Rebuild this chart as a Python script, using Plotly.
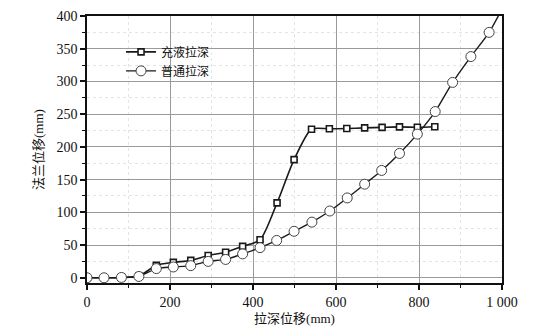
import plotly.graph_objects as go

# 充液拉深 (hydro-mechanical deep drawing)
hydro_x = [0, 41, 83, 125, 167, 208, 250, 292, 334, 375, 417, 458, 499,
           541, 584, 626, 669, 711, 753, 796, 838]
hydro_y = [0, 0, 0.5, 2.5, 19, 23.5, 26.5, 34, 39, 48, 58, 114.5, 180.5,
           227, 227.6, 228, 229, 229.8, 230.5, 230, 230.8]

# 普通拉深 (conventional deep drawing)
conv_x = [0, 41, 83, 125, 167, 208, 250, 292, 334, 375, 417, 457, 499,
          542, 585, 627, 669, 710, 753, 796, 839, 881, 925, 969, 1010]
conv_y = [0, 0, 0.5, 2, 14, 16.5, 18.5, 25, 28, 36.5, 46, 57, 71,
          85, 102, 122, 143, 164, 190, 219.5, 254, 298.5, 338, 375, 423]

x_ticks = [0, 200, 400, 600, 800, 1000]
x_tick_text = ["0", "200", "400", "600", "800", "1 000"]
y_ticks = [0, 50, 100, 150, 200, 250, 300, 350, 400]

serif = "Times New Roman, Liberation Serif, DejaVu Serif, serif"
mixed = "Times New Roman, Liberation Serif, Noto Sans CJK SC, serif"

fig = go.Figure()
fig.add_trace(go.Scatter(
    x=hydro_x, y=hydro_y, name="充液拉深", mode="lines+markers",
    line=dict(color="#1a1a1a", width=1.6, shape="spline", smoothing=0.7),
    marker=dict(symbol="square", size=6, color="white",
                line=dict(color="#1a1a1a", width=1.6)),
))
fig.add_trace(go.Scatter(
    x=conv_x, y=conv_y, name="普通拉深", mode="lines+markers",
    line=dict(color="#1a1a1a", width=1.4, shape="spline", smoothing=0.7),
    marker=dict(symbol="circle", size=10, color="white",
                line=dict(color="#444", width=1)),
))

axis_common = dict(
    showline=True, linecolor="#111", linewidth=1.6, mirror=True,
    ticks="outside", ticklen=5, tickwidth=1.5, tickcolor="#111",
    showgrid=True, gridcolor="#9a9a9a", gridwidth=1,
    zeroline=False, automargin=False,
    tickfont=dict(family=serif, size=14, color="#111"),
)

fig.update_xaxes(
    **axis_common,
    range=[0, 1000], tickvals=x_ticks, ticktext=x_tick_text,
    minor=dict(dtick=100, ticks="outside", ticklen=3, tickwidth=1.3,
               tickcolor="#111", showgrid=True, gridcolor="#e4e4e4",
               griddash="dot", gridwidth=1),
    title=dict(text="拉深位移(mm)", font=dict(family=mixed, size=13, color="#111"),
               standoff=6),
)
fig.update_yaxes(
    **axis_common,
    range=[-8, 400], tickvals=y_ticks,
    minor=dict(dtick=25, tick0=0, ticks="outside", ticklen=3, tickwidth=1.3,
               tickcolor="#111", showgrid=True, gridcolor="#e4e4e4",
               griddash="dot", gridwidth=1),
    title=dict(text="法兰位移(mm)", font=dict(family=mixed, size=13, color="#111"),
               standoff=10),
)

fig.update_layout(
    width=535, height=326,
    margin=dict(l=87, r=33, t=16, b=43),
    paper_bgcolor="white", plot_bgcolor="white",
    showlegend=True,
    legend=dict(x=0.082, y=0.92, xanchor="left", yanchor="top",
                bgcolor="rgba(0,0,0,0)",
                font=dict(family=mixed, size=12, color="#111"),
                tracegroupgap=0),
)

fig.write_html("out.html")
